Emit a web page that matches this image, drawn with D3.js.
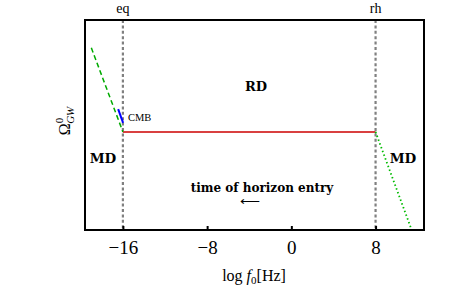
<!DOCTYPE html>
<html>
<head>
<meta charset="utf-8">
<script src="https://cdn.jsdelivr.net/npm/d3@7"></script>
<style>
  body { margin: 0; background: #fff; }
</style>
</head>
<body>
<svg id="chart" width="450" height="300" font-family="Liberation Serif"></svg>
<script>
// data (x = log f0 [Hz], y = log Omega, arbitrary units)
var xTicks = [-16, -8, 0, 8];
var markers = [{ x: -16, label: "eq" }, { x: 8, label: "rh" }];
var mdEarly = [{ x: -19, y: 8.68 }, { x: -16, y: 4.67 }];
var cmb = [{ x: -16.45, y: 5.76 }, { x: -15.98, y: 5.1 }];
var rd = [{ x: -16, y: 4.67 }, { x: 8, y: 4.67 }];
var mdLate = [{ x: 8, y: 4.67 }, { x: 11.43, y: 0 }];

var m = { l: 85, r: 424, t: 20, b: 230 };
var serif = "Liberation Serif";
var bold = "DejaVu Serif";
var svg = d3.select("#chart");

var x = d3.scaleLinear().domain([-19.6, 12.6]).range([m.l, m.r]);
var y = d3.scaleLinear().domain([0, 10]).range([m.b, m.t]);

var line = d3.line().x(function (d) { return x(d.x) }).y(function (d) { return y(d.y) });

// dashed vertical markers
svg.selectAll(".vmark").data(markers).enter()
    .append("line")
    .attr("x1", function (d) { return x(d.x) }).attr("x2", function (d) { return x(d.x) })
    .attr("y1", m.t).attr("y2", m.b)
    .attr("stroke", "#808080").attr("stroke-width", 2.2)
    .attr("stroke-dasharray", "3,2.4");

svg.selectAll(".vlabel").data(markers).enter()
    .append("text")
    .attr("x", function (d) { return x(d.x) }).attr("y", 13)
    .attr("text-anchor", "middle").attr("font-size", 14).attr("font-family", serif)
    .text(function (d) { return d.label });

// curves
svg.append("path").datum(rd).attr("d", line)
    .attr("fill", "none").attr("stroke", "#cc0000").attr("stroke-width", 1.5);
svg.append("path").datum(mdEarly).attr("d", line)
    .attr("fill", "none").attr("stroke", "#00aa00").attr("stroke-width", 1.5)
    .attr("stroke-dasharray", "5,3");
svg.append("path").datum(mdLate).attr("d", line)
    .attr("fill", "none").attr("stroke", "#00bb00").attr("stroke-width", 1.8)
    .attr("stroke-dasharray", "1.5,2.5");
svg.append("path").datum(cmb).attr("d", line)
    .attr("fill", "none").attr("stroke", "#0000ff").attr("stroke-width", 2);

// frame + axis
svg.append("rect").attr("x", m.l).attr("y", m.t)
    .attr("width", m.r - m.l).attr("height", m.b - m.t)
    .attr("fill", "none").attr("stroke", "#000").attr("stroke-width", 2);

var xAxis = svg.append("g").attr("transform", `translate(0,${m.b})`)
    .call(d3.axisBottom(x).tickValues(xTicks).tickSizeInner(-4).tickSizeOuter(0)
        .tickPadding(10).tickFormat(function (d) { return d < 0 ? "\u2212" + (-d) : d }));
xAxis.attr("font-family", serif).attr("font-size", 19);
xAxis.select(".domain").remove();
xAxis.selectAll(".tick line").attr("stroke", "#000").attr("stroke-width", 2);
xAxis.selectAll(".tick text").attr("dy", "0.75em");

// annotations
svg.append("text").attr("x", 256).attr("y", 91).attr("text-anchor", "middle").attr("font-family", bold)
    .attr("font-size", 13).attr("font-weight", "bold").text("RD");
svg.append("text").attr("x", 103).attr("y", 163).attr("text-anchor", "middle").attr("font-family", bold)
    .attr("font-size", 13.5).attr("font-weight", "bold").text("MD");
svg.append("text").attr("x", 403).attr("y", 163).attr("text-anchor", "middle").attr("font-family", bold)
    .attr("font-size", 13.5).attr("font-weight", "bold").text("MD");
svg.append("text").attr("x", 128).attr("y", 121).attr("font-family", serif)
    .attr("font-size", 10.5).text("CMB");
svg.append("text").attr("x", 262).attr("y", 192).attr("text-anchor", "middle").attr("font-family", bold)
    .attr("font-size", 12).attr("font-weight", "bold").text("time of horizon entry");
svg.append("text").attr("x", 250).attr("y", 206).attr("text-anchor", "middle").attr("font-family", serif)
    .attr("font-size", 14).text("\u27F5");

// axis labels
var xl = svg.append("text").attr("x", 254).attr("y", 281).attr("text-anchor", "middle")
    .attr("font-family", serif).attr("font-size", 16);
xl.append("tspan").text("log ");
xl.append("tspan").attr("font-style", "italic").text("f");
xl.append("tspan").attr("font-size", 11).attr("dy", 3).text("0");
xl.append("tspan").attr("dy", -3).text("[Hz]");

var yl = svg.append("text").attr("transform", "translate(70,121) rotate(-90)")
    .attr("text-anchor", "middle").attr("font-family", serif).attr("font-size", 16);
yl.append("tspan").text("\u03A9");
yl.append("tspan").attr("font-size", 11).attr("dy", -7).text("0");
yl.append("tspan").attr("font-size", 11).attr("font-style", "italic").attr("dy", 11).attr("dx", -6).text("GW");
</script>
</body>
</html>
